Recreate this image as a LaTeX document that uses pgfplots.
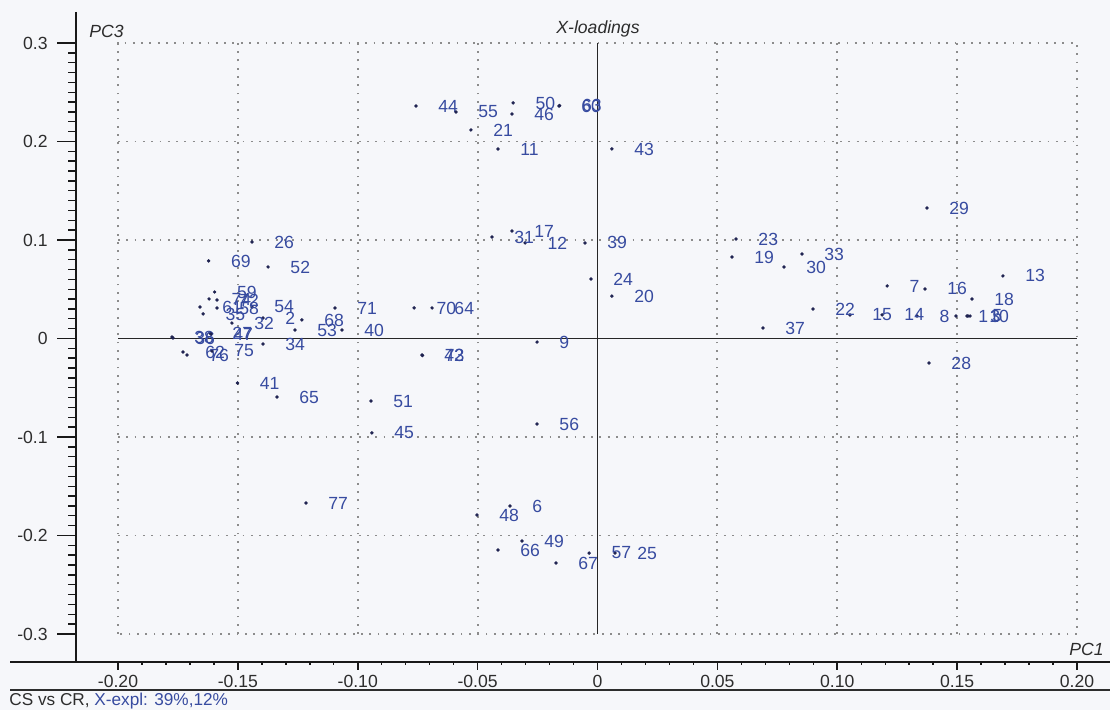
\documentclass[border=0pt]{standalone}
\usepackage{pgfplots}
\usepackage{pgfplotstable}
\pgfplotsset{compat=1.18}
\usepackage{fontspec}
\setmainfont{Liberation Sans}

\definecolor{labcol}{RGB}{55,75,160}
\definecolor{dotcol}{RGB}{30,34,80}
\definecolor{txtcol}{RGB}{45,45,45}
\definecolor{gridcol}{RGB}{140,140,140}
\definecolor{bgcol}{RGB}{246,247,250}

\tikzset{
  gridline/.style={gridcol, line width=0.9pt, dash pattern=on 0.9pt off 3.25pt},
  zeroline/.style={black!85, line width=0.8pt},
}

% X-loadings on PC1 (x) and PC3 (y), one row per variable
\pgfplotstableread{
x y lab
0.1495 0.0228 1
-0.1395 0.0208 2
0.1545 0.0228 3
-0.0765 0.0310 70
-0.0690 0.0310 64
0.1554 0.0228 5
-0.0365 -0.1701 6
0.1208 0.0533 7
0.1333 0.0228 8
-0.0252 -0.0036 9
0.1541 0.0228 10
-0.0415 0.1924 11
-0.0302 0.0970 12
0.1691 0.0635 13
0.1187 0.0239 14
0.1053 0.0239 15
0.1366 0.0503 16
-0.0357 0.1091 17
0.1562 0.0401 18
0.0561 0.0827 19
0.0060 0.0431 20
-0.0528 0.2117 21
0.0899 0.0299 22
0.0578 0.1010 23
-0.0027 0.0604 24
0.0073 -0.2178 25
-0.1441 0.0980 26
-0.1616 0.0056 27
0.1383 -0.0249 28
0.1374 0.1325 29
0.0778 0.0726 30
-0.0440 0.1030 31
-0.1525 0.0157 32
0.0853 0.0858 33
-0.1395 -0.0056 34
-0.1645 0.0249 35
-0.1771 0.0005 36
0.0690 0.0107 37
-0.1775 0.0015 38
-0.0052 0.0970 39
-0.1066 0.0086 40
-0.1502 -0.0452 41
-0.0732 -0.0168 42
0.0060 0.1924 43
-0.0757 0.2360 44
-0.0941 -0.0959 45
-0.0357 0.2279 46
-0.1612 0.0046 47
-0.0503 -0.1792 48
-0.0315 -0.2056 49
-0.0352 0.2391 50
-0.0945 -0.0635 51
-0.1374 0.0726 52
-0.1262 0.0086 53
-0.1441 0.0320 54
-0.0590 0.2299 55
-0.0252 -0.0868 56
-0.0035 -0.2178 57
-0.1587 0.0310 58
-0.1597 0.0472 59
-0.0161 0.2360 60
-0.1658 0.0320 61
-0.1729 -0.0137 62
-0.0158 0.2365 63
-0.0415 -0.2147 66
-0.1337 -0.0594 65
-0.0173 -0.2279 67
-0.1233 0.0188 68
-0.1622 0.0787 69
-0.1095 0.0310 71
-0.1587 0.0391 72
-0.0730 -0.0172 73
-0.1620 0.0401 74
-0.1608 -0.0127 75
-0.1712 -0.0168 76
-0.1216 -0.1670 77
}\loadings

\begin{document}
\begin{tikzpicture}
\fill[bgcol] (0,0) rectangle (555pt,-355pt);
\begin{axis}[
  at={(38pt,-331pt)}, anchor=south west,
  scale only axis, width=517pt, height=325pt,
  xmin=-0.21752, xmax=0.21376, ymin=-0.32843, ymax=0.33147,
  axis x line*=bottom, axis y line*=left,
  axis line style={draw=none},
  major tick length=0pt, minor tick length=0pt,
  tick style={draw=none},
  xtick={-0.2,-0.15,-0.1,-0.05,0,0.05,0.1,0.15,0.2},
  xticklabels={-0.20,-0.15,-0.10,-0.05,0,0.05,0.10,0.15,0.20},
  ytick={-0.3,-0.2,-0.1,0,0.1,0.2,0.3},
  yticklabels={-0.3,-0.2,-0.1,0,0.1,0.2,0.3},
  xticklabel style={anchor=north, inner sep=0pt, yshift=-6.5pt,
    font=\fontsize{8.8}{10}\selectfont, text=txtcol},
  yticklabel style={anchor=east, inner sep=0pt, xshift=-14pt,
    font=\fontsize{8.8}{10}\selectfont, text=txtcol},
  clip=false,
]
% dotted frame and grid of the plotting region
\draw[gridline] (axis cs:-0.2,-0.3) rectangle (axis cs:0.2,0.3);
\pgfplotsinvokeforeach{-0.15,-0.1,-0.05,0.05,0.1,0.15}{
  \draw[gridline] (axis cs:#1,-0.3) -- (axis cs:#1,0.3);
}
\pgfplotsinvokeforeach{-0.2,-0.1,0.1,0.2}{
  \draw[gridline] (axis cs:-0.2,#1) -- (axis cs:0.2,#1);
}
% origin lines
\draw[zeroline] (axis cs:-0.2,0) -- (axis cs:0.2,0);
\draw[zeroline] (axis cs:0,-0.3) -- (axis cs:0,0.3);

\addplot[only marks, mark=*, mark size=0.65pt, color=dotcol,
  nodes near coords, point meta=explicit symbolic,
  every node near coord/.append style={anchor=west, inner sep=0pt,
    xshift=11pt, yshift=0pt, text=labcol,
    font=\fontsize{8.8}{9}\selectfont}]
  table[x=x, y=y, meta=lab] {\loadings};
\end{axis}

% outer axis lines, ticks, titles and footer (1 unit = one pixel)
\begin{scope}[x=0.5pt, y=-0.5pt]
  \draw[black!90, line width=1pt] (10,662) -- (1110,662);
  \draw[black!90, line width=1pt] (76,12) -- (76,662);
  \foreach \i in {0,...,40} \draw[black!90, line width=0.7pt] (118+23.975*\i,662) -- ++(0,3);
  \foreach \i in {0,...,8} \draw[black!90, line width=0.8pt] (118+119.875*\i,662) -- ++(0,8);
  \foreach \i in {0,...,60} \draw[black!90, line width=0.7pt] (76,43+9.85*\i) -- ++(-8,0);
  \foreach \i in {0,...,6} \draw[black!90, line width=0.9pt] (76,43+98.5*\i) -- ++(-19,0);
  \draw[txtcol, line width=0.7pt] (10,690) -- (1110,690);
  \node[anchor=west, inner sep=0pt, text=txtcol, font=\fontsize{8.8}{10}\selectfont\itshape] at (89,31) {PC3};
  \node[inner sep=0pt, text=txtcol, font=\fontsize{8.8}{10}\selectfont\itshape] at (598,29) {X-loadings};
  \node[anchor=east, inner sep=0pt, text=txtcol, font=\fontsize{8.8}{10}\selectfont\itshape] at (1104,649) {PC1};
  \node[anchor=west, inner sep=0pt, font=\fontsize{8.6}{10}\selectfont] at (9,701)
    {\textcolor{txtcol}{CS vs CR,} \textcolor{labcol}{X-expl: 39\%,12\%}};
\end{scope}
\pgfresetboundingbox
\path (0,0) rectangle (555pt,-355pt);
\end{tikzpicture}
\end{document}
